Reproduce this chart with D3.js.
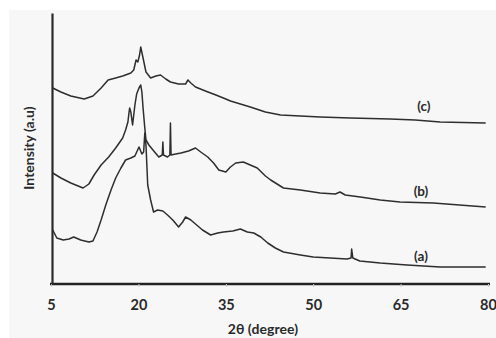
<!DOCTYPE html>
<html>
<head>
<meta charset="utf-8">
<script src="https://cdn.jsdelivr.net/npm/d3@7/dist/d3.min.js"></script>
<style>
	body { margin: 0; background: #fff; }
	svg { display: block; }
	.tickLabel { font-family: Lato, 'Open Sans', sans-serif; font-weight: bold; font-size: 14.5px; fill: #2a2a2a; }
	.axisTitle { font-family: Lato, 'Open Sans', sans-serif; font-weight: bold; font-size: 14px; fill: #2a2a2a; }
	.curveLabel { font-family: Lato, 'Open Sans', sans-serif; font-weight: bold; font-size: 13.5px; fill: #2a2a2a; }
	.curve { fill: none; stroke: #2e2e2e; stroke-width: 1.5; stroke-linejoin: round; }
</style>
</head>
<body>
<svg id="chart" width="496" height="338"></svg>
<script>
	// 2theta ticks
	let xTicks = [5, 20, 35, 50, 65, 80];

	// curve (a)
	let thetaA = [5.3, 6.0, 7.1, 8.1, 8.9, 10.1, 11.5, 12.2, 12.9, 13.6, 14.4, 15.3, 16.1, 17.0, 17.8, 18.7, 19.4, 20.1, 20.6, 20.9,
		21.1, 21.3, 21.6, 22.1, 22.6, 23.3, 24.2, 25.0, 25.9, 26.9, 27.6, 28.1, 29.0, 29.8, 31.0, 32.4, 33.6, 34.6, 36.2, 37.5,
		38.7, 39.8, 41.0, 42.2, 43.5, 44.9, 47.8, 50.0, 52.9, 55.8, 56.5, 56.6, 56.8, 58.0, 61.5, 66.1, 71.8, 79.6];
	let intensityA = [54, 46, 44, 45, 47, 44, 42, 43, 52, 64, 79, 94, 106, 116, 124, 126, 128, 137, 130, 132,
		151, 139, 99, 84, 72, 74, 73, 69, 64, 57, 62, 67, 64, 60, 54, 49, 51, 52, 53, 55,
		52, 51, 47, 41, 36, 32, 29, 27, 26, 25, 26, 35, 26, 23, 21, 19, 17, 17];

	// curve (b)
	let thetaB = [5.3, 6.7, 8.4, 10.5, 11.5, 12.4, 13.6, 14.9, 16.1, 17.3, 17.8, 18.2, 18.4, 18.5, 18.7, 19.0, 19.4, 19.7, 20.1, 20.4,
		20.6, 20.8, 21.1, 21.3, 21.8, 22.5, 23.5, 24.1, 24.2, 24.3, 25.0, 25.4, 25.5, 25.6, 26.4, 27.3, 28.6, 29.8, 30.7, 31.9,
		32.9, 33.8, 35.0, 35.8, 36.7, 38.0, 39.2, 40.4, 41.8, 42.7, 44.9, 47.8, 51.2, 53.8, 54.6, 55.5, 58.1, 61.5, 64.9, 70.6, 79.6];
	let intensityB = [111, 106, 101, 96, 100, 109, 119, 127, 136, 146, 154, 162, 172, 176, 172, 159, 179, 190, 196, 199,
		192, 176, 156, 144, 139, 134, 127, 129, 142, 129, 127, 129, 161, 129, 130, 131, 133, 136, 132, 127,
		121, 114, 112, 117, 121, 122, 119, 116, 108, 104, 96, 94, 91, 90, 92, 89, 87, 84, 82, 81, 77];

	// curve (c)
	let thetaC = [5.3, 6.7, 8.4, 10.7, 12.2, 13.6, 14.8, 16.1, 17.3, 18.7, 19.2, 19.6, 19.9, 20.2, 20.4, 20.8, 21.3, 22.1, 23.0, 23.8,
		24.7, 25.5, 26.9, 28.1, 28.5, 29.0, 29.8, 31.5, 33.3, 35.0, 35.8, 37.5, 39.2, 41.8, 44.4, 47.8, 51.2, 56.4, 63.2, 67.5, 71.8, 79.6];
	let intensityC = [196, 192, 188, 185, 188, 196, 204, 206, 208, 211, 214, 224, 222, 229, 237, 226, 212, 206, 208, 209,
		205, 202, 200, 200, 204, 201, 197, 193, 189, 185, 183, 180, 177, 172, 169, 168, 167, 166, 165, 164, 162, 161];

	let curveNames = ['(a)', '(b)', '(c)'];
	let labelTheta = [68.5, 68.5, 69.0];
	let labelIntensity = [23, 88, 173];

	let svg = d3.select('#chart');

	svg.append('rect')
		.attr('x', 9)
		.attr('y', 10)
		.attr('width', 487)
		.attr('height', 328)
		.attr('fill', '#f7f7f7');

	let x = d3.scaleLinear().domain([5, 80]).range([51, 488]);
	let y = d3.scaleLinear().domain([0, 271]).range([284, 13]);

	let line = d3.line()
		.x((d) => x(d[0]))
		.y((d) => y(d[1]));

	let curves = [
		d3.zip(thetaA, intensityA),
		d3.zip(thetaB, intensityB),
		d3.zip(thetaC, intensityC)
	];

	svg.selectAll('path.curve')
		.data(curves)
		.enter()
		.append('path')
		.attr('class', 'curve')
		.attr('d', line);

	// curve labels
	svg.selectAll('text.curveLabel')
		.data(curveNames)
		.enter()
		.append('text')
		.attr('class', 'curveLabel')
		.attr('x', (d, i) => x(labelTheta[i]))
		.attr('y', (d, i) => y(labelIntensity[i]))
		.attr('text-anchor', 'middle')
		.text((d) => d);

	// x axis
	let xAxis = d3.axisBottom(x)
		.tickValues(xTicks)
		.tickSize(3)
		.tickPadding(13)
		.tickFormat(d3.format('d'));
	let gx = svg.append('g')
		.attr('transform', 'translate(0,284)')
		.call(xAxis);
	gx.select('.domain')
		.attr('d', 'M' + (x(5) - 1) + ',0H' + (x(80) + 2))
		.attr('stroke', '#222')
		.attr('stroke-width', 2.6);
	gx.selectAll('.tick line')
		.attr('stroke', '#ccc')
		.attr('stroke-width', 1);
	gx.selectAll('.tick text')
		.attr('class', 'tickLabel')
		.attr('fill', null);

	// y axis, no ticks
	let yAxis = d3.axisLeft(y).tickValues([]).tickSizeOuter(0);
	let gy = svg.append('g')
		.attr('transform', 'translate(' + (x(5) + 1) + ',0)')
		.call(yAxis);
	gy.select('.domain')
		.attr('stroke', '#2a2a2a')
		.attr('stroke-width', 2.2);

	svg.append('text')
		.attr('class', 'axisTitle')
		.attr('x', 263)
		.attr('y', 334)
		.attr('text-anchor', 'middle')
		.text('2θ (degree)');

	svg.append('text')
		.attr('class', 'axisTitle')
		.attr('transform', 'translate(34,148) rotate(-90)')
		.attr('text-anchor', 'middle')
		.text('Intensity (a.u)');
</script>
</body>
</html>
